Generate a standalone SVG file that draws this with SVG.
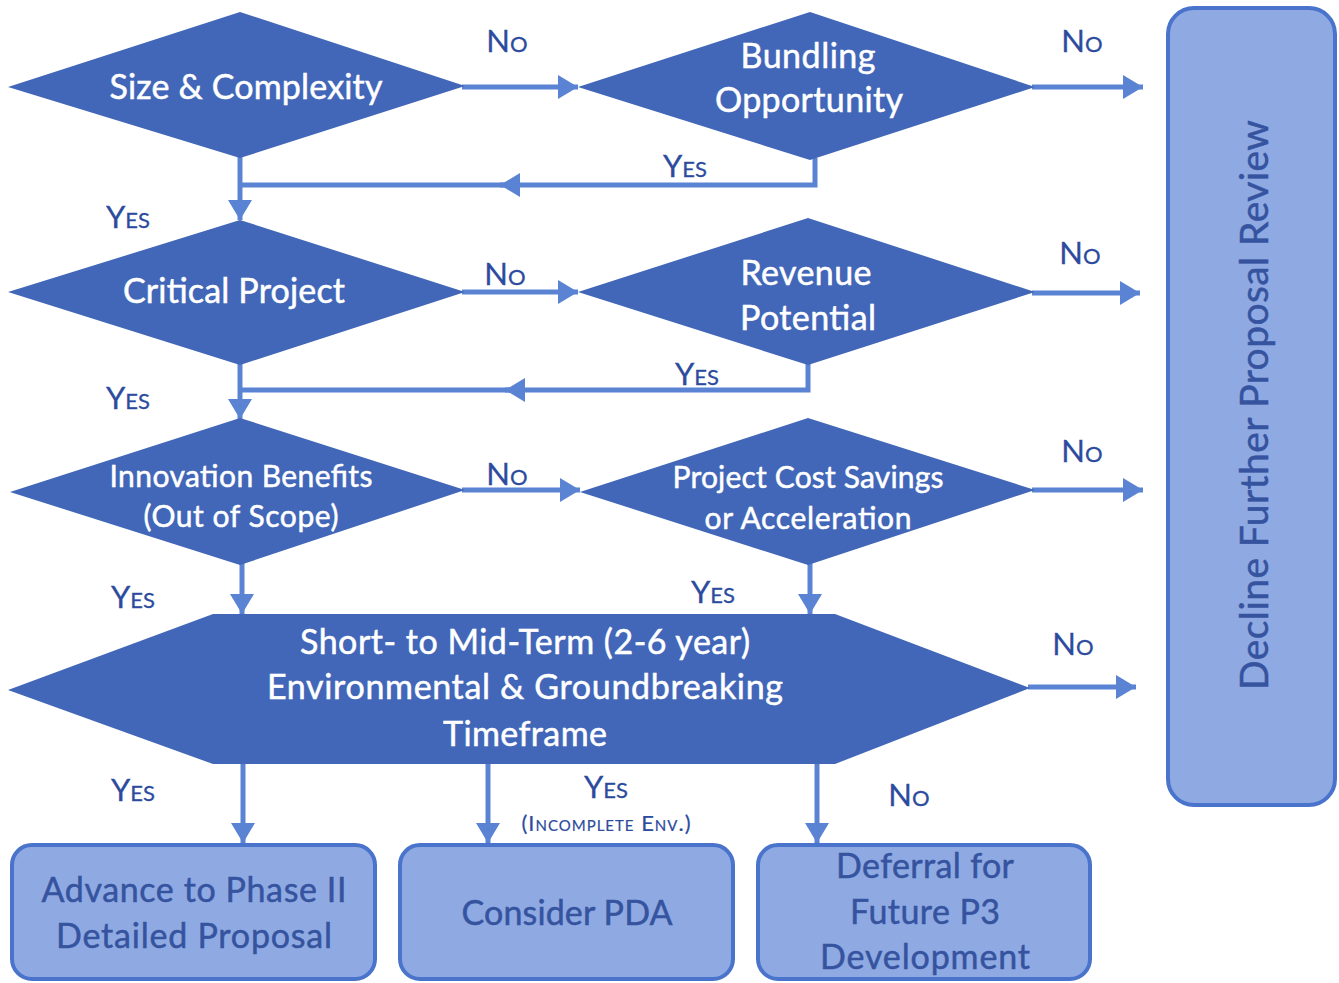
<svg xmlns="http://www.w3.org/2000/svg" width="1339" height="983" viewBox="0 0 1339 983">
<defs>
<marker id="ah" markerUnits="userSpaceOnUse" markerWidth="22" markerHeight="24" refX="20" refY="12" orient="auto">
<path d="M0,0 L20,12 L0,24 Z" fill="#5b83d3"/>
</marker>
</defs>
<style>
.dia{fill:#4267b8;}
.dt{font-family:Lato,"Liberation Sans",sans-serif;fill:#ffffff;stroke:#ffffff;stroke-width:0.5;text-anchor:middle;}
.lbl{font-family:Lato,"Liberation Sans",sans-serif;fill:#2d4b9e;stroke:#2d4b9e;stroke-width:0.3;font-size:31px;font-variant:small-caps;text-anchor:middle;}
.box{fill:#8faae2;stroke:#4a74cc;stroke-width:4;}
.bt{font-family:Lato,"Liberation Sans",sans-serif;fill:#35539f;stroke:#35539f;stroke-width:0.5;font-size:34px;text-anchor:middle;}
.ln{fill:none;stroke:#5b83d3;stroke-width:5;}
.arr{marker-end:url(#ah);}
</style>
<rect width="1339" height="983" fill="#ffffff"/>

<g id="connectors">
<path class="ln arr" d="M462,87 H578"/>
<path class="ln arr" d="M1032,87 H1143"/>
<path class="ln arr" d="M815,158 V185 H500"/>
<path class="ln" d="M505,185 H240"/>
<path class="ln arr" d="M240,156 V220"/>
<path class="ln arr" d="M462,292 H578"/>
<path class="ln arr" d="M1032,293 H1140"/>
<path class="ln arr" d="M808,363 V390 H505"/>
<path class="ln" d="M510,390 H240"/>
<path class="ln arr" d="M240,363 V419"/>
<path class="ln arr" d="M462,490 H580"/>
<path class="ln arr" d="M1032,490 H1143"/>
<path class="ln arr" d="M242,563 V614"/>
<path class="ln arr" d="M810,563 V614"/>
<path class="ln arr" d="M1028,687 H1136"/>
<path class="ln arr" d="M243,763 V843"/>
<path class="ln arr" d="M488,763 V843"/>
<path class="ln arr" d="M817,763 V843"/>
<text class="lbl" x="507" y="52">No</text>
<text class="lbl" x="1082" y="52">No</text>
<text class="lbl" x="685" y="177">Yes</text>
<text class="lbl" x="128" y="228">Yes</text>
<text class="lbl" x="505" y="285">No</text>
<text class="lbl" x="1080" y="264">No</text>
<text class="lbl" x="697" y="385">Yes</text>
<text class="lbl" x="128" y="409">Yes</text>
<text class="lbl" x="507" y="485">No</text>
<text class="lbl" x="1082" y="462">No</text>
<text class="lbl" x="133" y="608">Yes</text>
<text class="lbl" x="713" y="603">Yes</text>
<text class="lbl" x="1073" y="655">No</text>
<text class="lbl" x="133" y="801">Yes</text>
<text class="lbl" x="606" y="798">Yes</text>
<text class="lbl" x="606" y="831" style="font-size:22px;stroke-width:0.2" textLength="169">(Incomplete Env.)</text>
<text class="lbl" x="909" y="806">No</text>
</g>

<g id="size-complexity">
<polygon class="dia" points="8,87 240,12 465,86 240,158"/>
<text class="dt" x="246" y="99" font-size="34" textLength="273">Size &amp; Complexity</text>
</g>
<g id="bundling">
<polygon class="dia" points="578,87 810,12 1035,87 810,160"/>
<text class="dt" x="808" y="68" font-size="34" textLength="135">Bundling</text>
<text class="dt" x="809" y="112" font-size="34" textLength="188">Opportunity</text>
</g>
<g id="critical-project">
<polygon class="dia" points="8,292 240,220 465,292 240,365"/>
<text class="dt" x="234" y="303" font-size="34" textLength="222">Critical Project</text>
</g>
<g id="revenue">
<polygon class="dia" points="578,292 808,218 1035,292 808,365"/>
<text class="dt" x="806" y="285" font-size="34" textLength="131">Revenue</text>
<text class="dt" x="808" y="330" font-size="34" textLength="136">Potential</text>
</g>
<g id="innovation">
<polygon class="dia" points="10,492 240,418 465,490 240,565"/>
<text class="dt" x="241" y="487" font-size="30" textLength="263">Innovation Benefits</text>
<text class="dt" x="241" y="527" font-size="30" textLength="195">(Out of Scope)</text>
</g>
<g id="cost-savings">
<polygon class="dia" points="580,492 808,418 1035,490 808,565"/>
<text class="dt" x="808" y="488" font-size="30" textLength="271">Project Cost Savings</text>
<text class="dt" x="808" y="529" font-size="30" textLength="207">or Acceleration</text>
</g>
<g id="timeframe">
<polygon class="dia" points="8,690 213,614 835,614 1030,688 835,764 213,764"/>
<text class="dt" x="525" y="654" font-size="34" textLength="450">Short- to Mid-Term (2-6 year)</text>
<text class="dt" x="525" y="699" font-size="34" textLength="516">Environmental &amp; Groundbreaking</text>
<text class="dt" x="525" y="746" font-size="34" textLength="164">Timeframe</text>
</g>
<g id="decline">
<rect class="box" x="1168" y="8" width="167" height="797" rx="26"/>
<text class="bt" transform="translate(1268,405) rotate(-90)" style="font-size:39px" textLength="570">Decline Further Proposal Review</text>
</g>
<g id="advance">
<rect class="box" x="12" y="845" width="363" height="134" rx="20"/>
<text class="bt" x="194" y="902" textLength="305">Advance to Phase II</text>
<text class="bt" x="194" y="948" textLength="276">Detailed Proposal</text>
</g>
<g id="pda">
<rect class="box" x="400" y="845" width="333" height="134" rx="20"/>
<text class="bt" x="567" y="925" textLength="211">Consider PDA</text>
</g>
<g id="deferral">
<rect class="box" x="758" y="845" width="332" height="134" rx="20"/>
<text class="bt" x="925" y="878" textLength="178">Deferral for</text>
<text class="bt" x="925" y="924" textLength="150">Future P3</text>
<text class="bt" x="925" y="969" textLength="210">Development</text>
</g>
</svg>
